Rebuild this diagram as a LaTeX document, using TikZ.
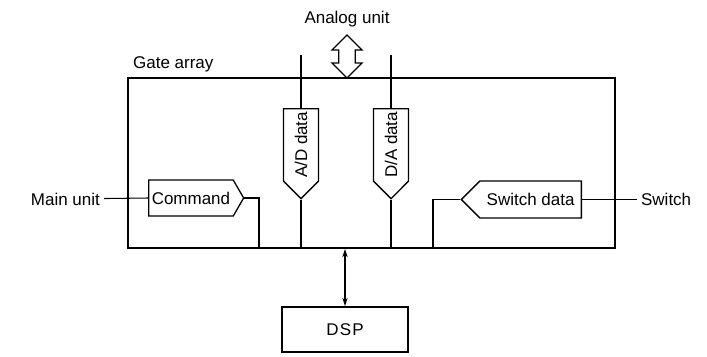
\documentclass[tikz,border=0pt]{standalone}
\usepackage{fontspec}
\setmainfont{Liberation Sans}
\usetikzlibrary{arrows.meta,shapes.symbols,shapes.arrows}

\begin{document}
\begin{tikzpicture}[x=0.03cm,y=-0.03cm,>={Stealth[length=7pt,width=4.5pt]},font=\fontsize{14.5}{17}\selectfont]
\tikzstyle{wire}=[line width=0.9pt]
\tikzstyle{port}=[draw,line width=1.1pt,signal,inner sep=2pt]
\tikzstyle{vport}=[port,signal to=west,rotate=90,minimum width=2.7cm,minimum height=1.05cm]
\useasboundingbox (0,0) rectangle (707,356);
\node[draw,line width=1.6pt,minimum width=14.61cm,minimum height=5.1cm] (gate) at (371.5,163) {};
\node[anchor=base west] (gatelabel) at (129,68) {Gate array};
\node[anchor=base] (analog) at (347,23.5) {Analog unit};
\node[draw,line width=1.1pt,double arrow,rotate=90,minimum height=1.29cm,minimum width=0.9cm,double arrow head extend=0.2cm,inner sep=0.23cm] (bus) at (347,56.5) {};
\node[vport,anchor=east] (ad) at (301,108) {A/D data};
\node[vport,anchor=east] (da) at (391,108) {D/A data};
\node[port,signal to=east,signal pointer angle=120,minimum width=2.85cm,minimum height=1.08cm,anchor=west] (cmd) at (148,198) {Command};
\node[port,signal to=west,minimum width=3.6cm,minimum height=1.11cm,anchor=east] (swd) at (582,199.5) {Switch data};
\node[anchor=east] (main) at (104,199) {Main unit};
\node[anchor=west] (switch) at (637,199.5) {Switch};
\node[draw,line width=1.6pt,minimum width=3.78cm,minimum height=1.35cm] (dsp) at (345,329.5) {D\kern1pt S\kern1pt P};
\coordinate (adtop) at (301,55);
\coordinate (datop) at (391,55);
\coordinate (cmdbus) at (259,248);
\coordinate (swbus) at (433,248);
\draw[wire] (adtop) -- (ad.east);
\draw[wire] (ad.west) -- (ad.west |- gate.south);
\draw[wire] (datop) -- (da.east);
\draw[wire] (da.west) -- (da.west |- gate.south);
\draw[wire] (main) -- (cmd.west);
\draw[wire] (cmd.east) -| (cmdbus);
\draw[wire] (swd.west) -| (swbus);
\draw[wire] (swd.east) -- (switch);
\draw[wire,<->] (dsp.north |- gate.south) -- (dsp.north);
\end{tikzpicture}
\end{document}
